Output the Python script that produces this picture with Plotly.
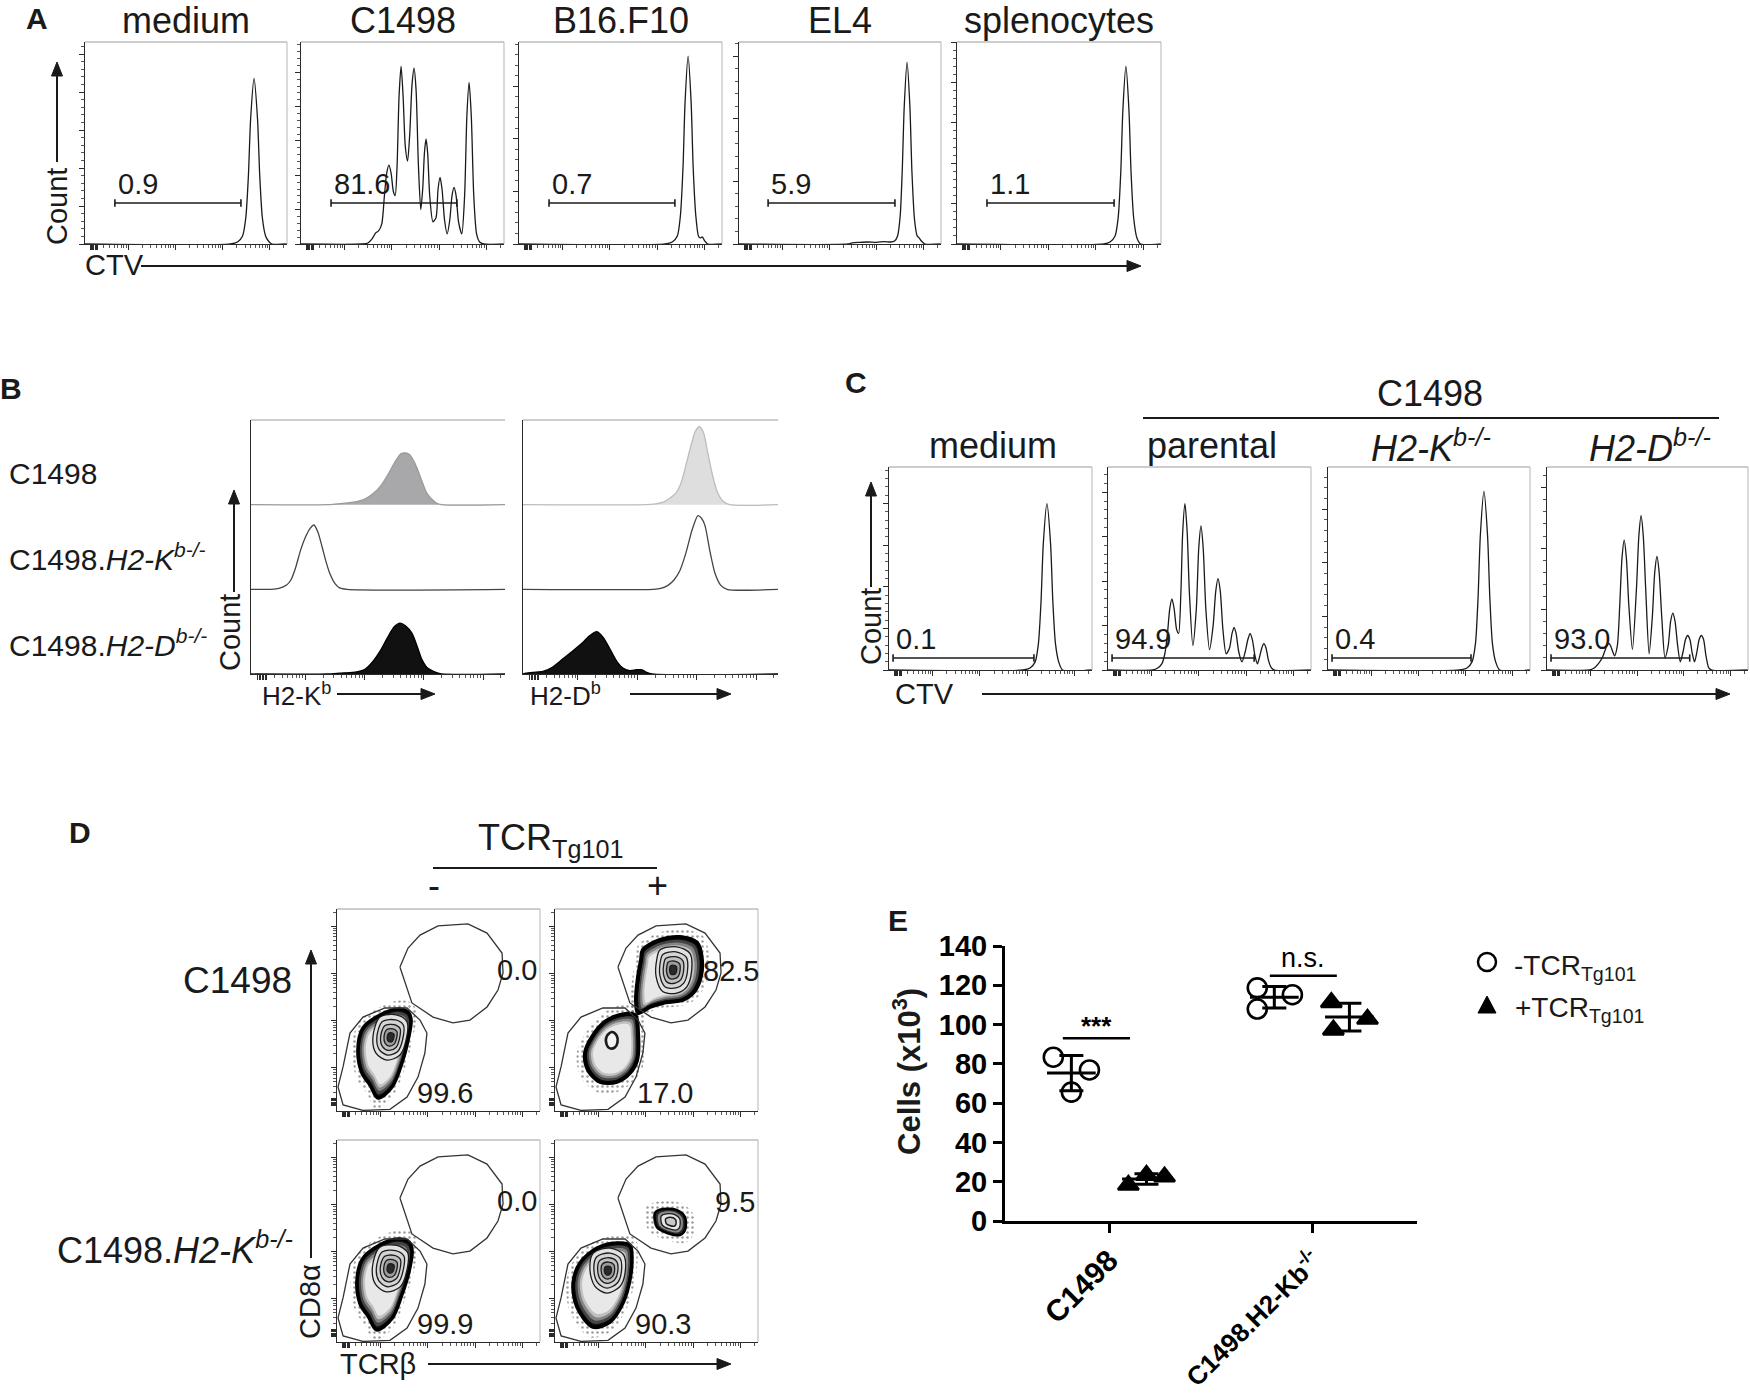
import numpy as np
import plotly.graph_objects as go

W, H = 1750, 1395
FONT = "Liberation Sans, Arial, Helvetica, sans-serif"
INK = "#1a1a1a"

# ====================== DATA ======================
# Panel A – CTV histograms (x, y in % of each plot frame)
A_titles = ["medium", "C1498", "B16.F10", "EL4", "splenocytes"]
A_gate_labels = ["0.9", "81.6", "0.7", "5.9", "1.1"]
A_gate_start = [14.8, 14.8, 14.8, 14.4, 14.7]
A_gate_end = [77.2, 76.8, 76.8, 77.2, 77.0]
A_gate_level = [20.3, 20.3, 20.3, 20.3, 20.3]
A_count_step = [18.8, 17.0, 26.0, 31.0, 20.0]

A_medium_x = [0, 72, 75.5, 78, 79.6, 80.9, 82, 83.7, 85.4, 86.5, 87.8, 89.4, 90.8, 92.5, 100]
A_medium_y = [0, 0, 1, 4, 13, 34, 62, 82, 62, 34, 13, 4, 1.5, 0, 0]
A_c1498_x = [0, 30, 33, 35, 36.8, 38.2, 39.8, 41.1, 42.2, 43.3, 44.4, 45.5, 46.4, 47.3, 48.3, 49.3, 50.3,
             51.4, 52.5, 53.6, 54.7, 55.7, 56.7, 57.8, 59.0, 60.0, 60.8, 61.6, 62.4, 63.4, 65.0, 66.5,
             67.5, 68.5, 69.5, 70.7, 72.0, 73.3, 74.4, 75.4, 76.4, 77.6, 79.2, 80.6, 81.7, 82.8, 83.9,
             85.1, 86.5, 88, 90, 100]
A_c1498_y = [0, 0, 0.5, 2.5, 5.5, 6.5, 10, 24, 35, 39, 35, 26, 24, 38, 73, 88, 73, 48, 41, 55, 79, 87,
             76, 40, 17, 28, 45, 52, 45, 24, 11, 13, 27, 33, 27, 12, 5, 12, 24, 28, 24, 11, 5, 24, 63,
             80, 63, 24, 5, 1, 0, 0]
A_b16_x = [0, 72, 75.5, 78, 79.5, 80.8, 81.8, 83.3, 84.8, 85.8, 87.1, 88.4, 89.3, 90.3, 91.5, 93, 100]
A_b16_y = [0, 0, 1, 4, 14, 38, 70, 93, 70, 38, 14, 4, 3, 3.5, 1.5, 0, 0]
A_el4_x = [0, 54, 56, 60, 64, 68, 72, 75, 77, 78.5, 79.8, 80.8, 81.8, 83.2, 84.6, 85.6, 86.9, 88.2,
           89.2, 90.3, 92, 100]
A_el4_y = [0, 0, 0.6, 0.8, 1, 0.8, 1.2, 1, 1.5, 4, 14, 36, 68, 90, 68, 36, 12, 4, 3, 1.5, 0, 0]
A_spl_x = [0, 72, 75, 77.5, 79, 80.3, 81.3, 82.8, 84.3, 85.3, 86.6, 88.2, 90, 100]
A_spl_y = [0, 0, 1, 4, 13, 36, 66, 88, 66, 36, 13, 3, 0, 0]
A_curves = [(A_medium_x, A_medium_y), (A_c1498_x, A_c1498_y), (A_b16_x, A_b16_y),
            (A_el4_x, A_el4_y), (A_spl_x, A_spl_y)]

# Panel B – MHC-I staining, offset histograms (x in %, y in row units)
B_row_labels = ["C1498", "C1498.<i>H2-K<sup>b-/-</sup></i>", "C1498.<i>H2-D<sup>b-/-</sup></i>"]
B_axis_labels = ["H2-K<sup>b</sup>", "H2-D<sup>b</sup>"]
B_Kb_top_x = [0, 30, 34, 38, 42, 45, 48, 51, 54, 57, 59, 60.6, 62.5, 64, 65.5, 67, 69, 71, 73, 75, 100]
B_Kb_top_y = [0, 0, 0.01, 0.02, 0.04, 0.07, 0.13, 0.22, 0.36, 0.52, 0.6, 0.61, 0.59, 0.52, 0.42, 0.3,
              0.15, 0.07, 0.02, 0, 0]
B_Kb_mid_x = [0, 8, 11, 14, 15.7, 17.5, 19.5, 21.5, 23.3, 24.8, 26.3, 28, 29.5, 31, 33, 34.7, 37.8, 100]
B_Kb_mid_y = [0, 0, 0.01, 0.05, 0.11, 0.25, 0.46, 0.62, 0.72, 0.76, 0.68, 0.5, 0.33, 0.19, 0.07, 0.02, 0, 0]
B_Kb_bot_x = [0, 30, 35, 40, 42.5, 45, 48, 51, 53.9, 56.5, 58.7, 60.8, 63.4, 65.5, 67.3, 69.5, 72.8, 75, 100]
B_Kb_bot_y = [0, 0, 0.01, 0.02, 0.03, 0.06, 0.15, 0.28, 0.44, 0.56, 0.6, 0.57, 0.48, 0.32, 0.17, 0.07,
              0.02, 0, 0]
B_Db_top_x = [0, 48, 52, 55, 57.3, 60, 62, 64, 65.8, 67.5, 69.2, 70.8, 72.4, 74.3, 76.2, 78.5, 81, 100]
B_Db_top_y = [0, 0, 0.01, 0.03, 0.07, 0.14, 0.26, 0.48, 0.69, 0.86, 0.92, 0.85, 0.62, 0.35, 0.15, 0.04, 0, 0]
B_Db_mid_x = [0, 51, 54, 57, 59.2, 61.5, 63.9, 66.3, 68.6, 70, 71.4, 73.3, 75.3, 77.5, 80, 100]
B_Db_mid_y = [0, 0, 0.01, 0.05, 0.11, 0.22, 0.43, 0.7, 0.87, 0.84, 0.75, 0.45, 0.19, 0.05, 0, 0]
B_Db_bot_x = [0, 1.2, 4, 7.8, 11.5, 15.3, 19, 23, 26, 29, 31.5, 34.4, 36.8, 39.2, 42, 44.5, 46.7, 48.5,
              50.6, 100]
B_Db_bot_y = [0, 0.01, 0.02, 0.03, 0.08, 0.17, 0.26, 0.36, 0.45, 0.5, 0.43, 0.28, 0.15, 0.07, 0.04, 0.05,
              0.05, 0.02, 0, 0]

# Panel C – CTV histograms
C_group_title = "C1498"
C_titles = ["medium", "parental", "<i>H2-K<sup>b-/-</sup></i>", "<i>H2-D<sup>b-/-</sup></i>"]
C_gate_labels = ["0.1", "94.9", "0.4", "93.0"]
C_gate_start = [2.0, 2.0, 2.0, 2.0]
C_gate_end = [71.4, 72.0, 70.8, 71.0]
C_gate_level = [5.9, 5.9, 5.9, 5.9]
C_count_step = [20.5, 21.9, 26.4, 30.0]
C_medium_x = [0, 66, 69.5, 72, 73.6, 74.9, 76, 77.8, 79.6, 80.7, 82, 83.6, 85.5, 100]
C_medium_y = [0, 0, 1, 4, 13, 34, 62, 82, 62, 34, 13, 4, 0, 0]
C_par_x = [0, 22, 24.5, 26.5, 28, 29.3, 30.4, 31.5, 32.6, 33.8, 34.8, 35.9, 36.8, 37.9, 39.0, 40.1, 41.8,
           43.5, 44.7, 45.8, 46.9, 48.2, 50.0, 51.8, 53.1, 54.2, 55.3, 56.6, 58.2, 59.9, 61.1, 62.1, 63.1,
           64.4, 66.0, 67.6, 68.9, 70.0, 71.1, 72.4, 73.6, 74.8, 75.8, 76.8, 77.8, 79.0, 80.5, 82, 100]
C_par_y = [0, 0, 1, 3, 8, 18, 30, 35, 30, 20, 18, 38, 68, 82, 68, 38, 12, 30, 60, 71, 60, 30, 10, 22, 39,
           45, 39, 20, 8, 11, 18, 21, 18, 9, 4, 9, 15, 18, 15, 7, 3, 7, 11, 13, 11, 5, 1, 0, 0]
C_kb_x = [0, 65, 68.8, 71.3, 73, 74.3, 75.4, 77.2, 79, 80.1, 81.4, 83, 85, 100]
C_kb_y = [0, 0, 1, 4, 13, 36, 66, 88, 66, 36, 13, 4, 0, 0]
C_db_x = [0, 21, 23.5, 25.5, 27.5, 29, 30, 31, 32, 33.6, 35, 36.2, 37.3, 38.4, 39.5, 40.7, 42.5, 44.5,
          45.7, 46.8, 47.9, 49.1, 50.8, 52.4, 53.6, 54.7, 55.8, 57.1, 58.7, 60.3, 61.5, 62.6, 63.7, 65,
          66.3, 67.7, 68.9, 70, 71.1, 72.3, 73.4, 74.6, 75.7, 76.8, 77.9, 79.1, 80.5, 82, 100]
C_db_y = [0, 0, 1, 3, 6, 10, 12.5, 13, 11, 7, 12, 32, 55, 64, 55, 32, 10, 40, 66, 76, 66, 40, 8, 26, 48,
          56, 48, 26, 6, 12, 24, 28, 24, 12, 4, 9, 15, 17, 15, 8, 4, 9, 15, 17, 15, 7, 1, 0, 0]
C_curves = [(C_medium_x, C_medium_y), (C_par_x, C_par_y), (C_kb_x, C_kb_y), (C_db_x, C_db_y)]

# Panel D – CD8a vs TCRb contour plots (coordinates in % of each frame)
D_row_labels = ["C1498", "C1498.<i>H2-K<sup>b-/-</sup></i>"]
D_hi_labels = ["0.0", "82.5", "0.0", "9.5"]
D_lo_labels = ["99.6", "17.0", "99.9", "90.3"]
D_gate_lo_x = [3, 6.4, 12.8, 23.6, 34.5, 40.9, 44.3, 43.3, 39.9, 34.5, 26.1, 12.8, 3, 0.5]
D_gate_lo_y = [22, 38.6, 46.5, 51, 51, 45, 38.6, 28.7, 16.8, 6.9, 0.8, 0.3, 3, 11.9]
D_gate_hi_x = [31, 35, 40.9, 49.8, 64.5, 73.9, 81.3, 81.8, 79.3, 73.9, 65.5, 57.1, 47.3, 36.9]
D_gate_hi_y = [71.3, 80.7, 87.1, 91.6, 92.6, 88.1, 78.2, 68.3, 59.9, 51.5, 45, 43.6, 46.5, 53.5]
D_TL_outer_x = [20.2, 16.3, 12.3, 10.3, 12.8, 21.2, 30.0, 35.0, 36.5, 35.0, 32.0, 27.1]
D_TL_outer_y = [6.4, 12.9, 18.8, 30.2, 41.1, 47.5, 50.5, 49.0, 45.0, 35.1, 23.8, 11.9]
D_TL_inner_x = [21.2, 29.6, 34.5, 34.0, 31.0, 24.6, 19.2, 17.7]
D_TL_inner_y = [46.5, 47.5, 44.1, 35.1, 27.7, 25.2, 28.7, 36.6]
D_BL_outer_x = [19.5, 15.5, 11.5, 9.8, 12.5, 21.0, 30.0, 35.5, 37.0, 35.5, 32.0, 27.0]
D_BL_outer_y = [6.0, 12.5, 18.5, 30.0, 41.0, 48.0, 51.0, 49.5, 45.0, 35.0, 23.5, 11.5]
D_BL_inner_x = [21.0, 29.5, 34.8, 34.3, 31.2, 24.4, 19.0, 17.4]
D_BL_inner_y = [46.8, 47.8, 44.3, 35.0, 27.4, 24.8, 28.5, 36.6]
D_TRu_outer_x = [43.3, 51.7, 61.6, 70.0, 72.4, 71.4, 68.0, 63.0, 53.2, 46.8, 40.9, 39.9, 40.9, 42.4]
D_TRu_outer_y = [79.7, 84.7, 86.1, 83.2, 74.8, 64.9, 58.4, 55.0, 53.5, 51.5, 48.5, 55.0, 66.3, 74.8]
D_TRu_inner_x = [51.7, 60.0, 66.5, 67.3, 64.9, 60.0, 53.2, 49.8, 50.1]
D_TRu_inner_y = [79.7, 81.3, 77.9, 69.5, 61.5, 58.4, 59.0, 66.5, 74.8]
D_TRl_outer_x = [39.4, 40.9, 40.4, 36.9, 30.5, 22.2, 16.3, 14.8, 18.2, 24.6, 32.0]
D_TRl_outer_y = [47.5, 38.6, 25.2, 18.8, 14.4, 14.4, 20.3, 28.7, 36.6, 44.1, 47.5]
D_TRl_inner_x = [28.0, 30.3, 30.8, 29.5, 27.0, 25.4, 25.5]
D_TRl_inner_y = [39.1, 37.5, 34.0, 31.5, 31.0, 33.0, 37.0]
D_BRl_outer_x = [18.7, 10.8, 8.9, 12.3, 20.7, 30.5, 36.9, 37.9, 36.9, 33.5, 27.1]
D_BRl_outer_y = [7.4, 17.3, 29.2, 39.1, 46.5, 49.0, 48.0, 42.1, 30.7, 19.3, 9.9]
D_BRl_inner_x = [18.9, 27.1, 33.7, 34.5, 32.0, 25.5, 19.7, 17.2]
D_BRl_inner_y = [44.0, 46.5, 43.2, 34.1, 27.5, 24.2, 27.5, 35.8]
D_BRu_outer_x = [49.3, 53.2, 60.1, 64.0, 64.0, 61.6, 55.2, 50.2]
D_BRu_outer_y = [63.9, 65.8, 65.3, 61.9, 55.4, 53.0, 54.0, 56.9]

# Panel E – cell counts (x10^3)
E_categories = ["C1498", "C1498.H2-Kb<sup>-/-</sup>"]
E_neg_vals = [[83.4, 76.9, 65.6], [118.7, 115.2, 107.9]]
E_pos_vals = [[18.3, 23.3, 22.5], [111.3, 102.8, 97.3]]
E_neg_jitter = [[-0.089, 0.089, 0.0], [-0.084, 0.089, -0.084]]
E_pos_jitter = [[-0.089, 0.0, 0.089], [-0.089, 0.089, -0.079]]
E_group_offset = [-0.19, 0.18]
E_sig_labels = ["<b>***</b>", "n.s."]
E_sig_level = [93.0, 124.8]
E_sig_span = [(-0.232, 0.099), (0.788, 1.118)]
E_legend = ["-TCR<sub>Tg101</sub>", "+TCR<sub>Tg101</sub>"]

# ====================== LAYOUT HELPERS ======================
FLOW_MAJOR = [21.5, 44.8, 68.1, 91.4]
FLOW_ZERO = [2.6, 3.2, 3.8, 4.4, 5.0, 5.6, 6.2]
FLOW_MINOR = sorted(v for d in [-1.8, 21.5, 44.8, 68.1, 91.4] for v in
                    [d + 23.3 * np.log10(k) for k in range(2, 10)] if 8 < v < 100)

fig = go.Figure()
ann, shp, axes = [], [], {}


def ids(i):
    s = "" if i == 1 else str(i)
    return "xaxis" + s, "yaxis" + s, "x" + s, "y" + s


def frame(i, box, yrange, ymaj=None, ymin=None, right=True):
    l, t, r, b = box
    xk, yk, xid, yid = ids(i)
    common = dict(showgrid=False, zeroline=False, showline=True, linecolor="#2a2a2a", linewidth=1.2,
                  showticklabels=False, fixedrange=True, tickmode="array", ticks="outside",
                  ticklen=5, tickwidth=1, tickcolor="#2a2a2a", automargin=False)
    axes[xk] = dict(common, domain=[l / W, r / W], range=[0, 100], anchor=yid,
                    tickvals=FLOW_ZERO + FLOW_MAJOR,
                    minor=dict(tickmode="array", tickvals=FLOW_MINOR, ticks="outside", ticklen=3,
                               tickwidth=1, tickcolor="#555"))
    ya = dict(common, domain=[1 - b / H, 1 - t / H], range=yrange, anchor=xid)
    if ymaj is None:
        ya.update(ticks="", tickvals=[])
    else:
        ya.update(tickvals=ymaj, minor=dict(tickmode="array", tickvals=ymin, ticks="outside",
                                            ticklen=3, tickwidth=1, tickcolor="#555"))
    axes[yk] = ya
    shp.append(dict(type="line", xref=xid + " domain", yref=yid + " domain", x0=0, x1=1, y0=1, y1=1,
                    line=dict(color="#9c9c9c", width=1.2)))
    if right:
        shp.append(dict(type="line", xref=xid + " domain", yref=yid + " domain", x0=1, x1=1, y0=0, y1=1,
                        line=dict(color="#b5b5b5", width=1)))
    return xid, yid


def count_ticks(step):
    maj = list(np.arange(0, 100.001, step))
    mn = [m + step * k / 5 for m in maj for k in range(1, 5) if m + step * k / 5 < 100]
    return maj, mn


def text(x, y, s, size, xanchor="center", yanchor="middle", angle=0, color=INK):
    ann.append(dict(x=x / W, y=1 - y / H, xref="paper", yref="paper", text=s, showarrow=False,
                    xanchor=xanchor, yanchor=yanchor, textangle=angle,
                    font=dict(family=FONT, size=size, color=color)))


def pline(x0, y0, x1, y1, w=2, c=INK):
    shp.append(dict(type="line", xref="paper", yref="paper", x0=x0 / W, y0=1 - y0 / H, x1=x1 / W,
                    y1=1 - y1 / H, line=dict(color=c, width=w)))


def arrow(x0, y0, x1, y1, head=14, half=5.5):
    # straight arrow drawn with shapes: shaft + filled head anchored at the tip
    if x0 == x1:  # vertical, pointing up
        pline(x0, y0, x1, y1 + head - 2)
        path = "M 0,0 L %g,%g L %g,%g Z" % (-half, -head, half, -head)
    else:  # horizontal, pointing right
        pline(x0, y0, x1 - head + 2, y1)
        path = "M 0,0 L %g,%g L %g,%g Z" % (-head, half, -head, -half)
    shp.append(dict(type="path", xref="paper", yref="paper", xsizemode="pixel", ysizemode="pixel",
                    xanchor=x1 / W, yanchor=1 - y1 / H, path=path, fillcolor=INK,
                    line=dict(color=INK, width=1)))


def curve(xid, yid, xs, ys, color=INK, width=1.3, fill=None, base=0.0):
    kw = dict(x=xs, y=[base + v for v in ys], xaxis=xid, yaxis=yid, mode="lines",
              line=dict(color=color, width=width, shape="spline", smoothing=0.7),
              hoverinfo="skip", showlegend=False)
    if fill:
        kw.update(fill="toself", fillcolor=fill)
    fig.add_trace(go.Scatter(**kw))


def gate(xid, yid, g0, g1, gy, label, size=29):
    for (a, b, c, d) in [(g0, gy, g1, gy), (g0, gy - 1.8, g0, gy + 1.8), (g1, gy - 1.8, g1, gy + 1.8)]:
        shp.append(dict(type="line", xref=xid, yref=yid, x0=a, y0=b, x1=c, y1=d,
                        line=dict(color=INK, width=1.6)))
    ann.append(dict(x=g0 + 0.6, y=gy + 0.3, xref=xid, yref=yid, text=label, showarrow=False,
                    xanchor="left", yanchor="bottom", font=dict(family=FONT, size=size, color=INK)))


# ====================== PANEL A ======================
A_boxes = [(85, 42, 287, 244), (301, 42, 504, 244), (519, 42, 722, 244), (739, 42, 941, 244),
           (957, 42, 1161, 244)]
for k in range(5):
    maj, mn = count_ticks(A_count_step[k])
    xid, yid = frame(k + 1, A_boxes[k], [0, 100], maj, mn)
    curve(xid, yid, *A_curves[k])
    gate(xid, yid, A_gate_start[k], A_gate_end[k], A_gate_level[k], A_gate_labels[k])
    l, t, r, b = A_boxes[k]
    text((l + r) / 2, 21, A_titles[k], 36)
text(37, 19, "<b>A</b>", 30)
text(57, 207, "Count", 29, angle=-90)
arrow(57, 162, 57, 62)
text(83, 265, "CTV", 29, xanchor="left")
arrow(141, 266, 1141, 266)

# ====================== PANEL B ======================
B_boxes = [(251, 420, 505, 674), (523, 420, 778, 674)]
B_sets = [
    [(B_Kb_top_x, B_Kb_top_y, "#a8a8aa", "#9a9a9a", 2), (B_Kb_mid_x, B_Kb_mid_y, "#ffffff", "#444", 1),
     (B_Kb_bot_x, B_Kb_bot_y, "#111111", "#000", 0)],
    [(B_Db_top_x, B_Db_top_y, "#dedede", "#bdbdbd", 2), (B_Db_mid_x, B_Db_mid_y, "#ffffff", "#444", 1),
     (B_Db_bot_x, B_Db_bot_y, "#111111", "#000", 0)],
]
for k in range(2):
    xid, yid = frame(6 + k, B_boxes[k], [0, 3], right=False)
    for xs, ys, fc, lc, base in B_sets[k]:
        curve(xid, yid, xs, ys, color=lc, width=1.3, fill=fc, base=base)
text(11, 388, "<b>B</b>", 30)
for k, yy in enumerate([473, 557, 643]):
    text(7, yy, B_row_labels[k], 30, xanchor="left")
text(230, 633, "Count", 29, angle=-90)
arrow(234, 592, 234, 490)
text(260, 694, B_axis_labels[0], 26, xanchor="left")
arrow(337, 694, 435, 694)
text(528, 694, B_axis_labels[1], 26, xanchor="left")
arrow(630, 694, 731, 694)

# ====================== PANEL C ======================
C_boxes = [(889, 467, 1092, 670), (1108, 467, 1311, 670), (1328, 467, 1530, 670), (1547, 467, 1748, 670)]
for k in range(4):
    maj, mn = count_ticks(C_count_step[k])
    xid, yid = frame(8 + k, C_boxes[k], [0, 100], maj, mn)
    curve(xid, yid, *C_curves[k])
    gate(xid, yid, C_gate_start[k], C_gate_end[k], C_gate_level[k], C_gate_labels[k])
    l, t, r, b = C_boxes[k]
    text((l + r) / 2 + 2, 446, C_titles[k], 36)
text(856, 383, "<b>C</b>", 30)
text(1430, 394, C_group_title, 36)
pline(1143, 418, 1719, 418, 2)
text(871, 627, "Count", 29, angle=-90)
arrow(871, 587, 871, 482)
text(893, 694, "CTV", 29, xanchor="left")
arrow(982, 694, 1730, 694)

# ====================== PANEL D ======================
D_boxes = [(337, 909, 540, 1111), (555, 909, 758, 1111), (337, 1140, 540, 1342), (555, 1140, 758, 1342)]
D_hi_pos = [(88.7, 69.8), (86.6, 69.3), (88.7, 69.8), (88.7, 69.3)]
D_lo_pos = [(53.0, 8.9), (54.0, 8.9), (53.0, 8.9), (53.4, 8.9)]


def scaled(xs, ys, s, cx=None, cy=None):
    cx = float(np.mean(xs)) if cx is None else cx
    cy = float(np.mean(ys)) if cy is None else cy
    X = [cx + s * (x - cx) for x in xs]
    Y = [cy + s * (y - cy) for y in ys]
    return X + X[:1], Y + Y[:1]


def blob(xid, yid, X, Y, fill, lc="rgba(0,0,0,0)", lw=0.0, pattern=None, smooth=0.9):
    kw = dict(x=X, y=Y, xaxis=xid, yaxis=yid, mode="lines", fill="toself", fillcolor=fill,
              line=dict(color=lc, width=lw, shape="spline", smoothing=smooth),
              hoverinfo="skip", showlegend=False)
    if pattern:
        kw["fillpattern"] = pattern
    fig.add_trace(go.Scatter(**kw))


def outline(xid, yid, X, Y, lc, lw, smooth=0.9):
    fig.add_trace(go.Scatter(x=X, y=Y, xaxis=xid, yaxis=yid, mode="lines",
                             line=dict(color=lc, width=lw, shape="spline", smoothing=smooth),
                             hoverinfo="skip", showlegend=False))


HALO = dict(shape=".", fgcolor="#3a3a3a", bgcolor="rgba(0,0,0,0)", size=5, solidity=0.2)
GRAD_S = [1.0, 0.93, 0.86, 0.79, 0.72]
GRAD_C = ["#101010", "#444444", "#848484", "#c0c0c0", "#e8e8e8"]


def halo(xid, yid, ox, oy, s=1.22):
    X, Y = scaled(ox, oy, s)
    blob(xid, yid, X, Y, "rgba(0,0,0,0)", pattern=HALO)


def population(xid, yid, ox, oy, ix=None, iy=None, ring_s=(1.0, 0.78, 0.57, 0.38, 0.2),
               ring_c=("#e2e2e2", "#d4d4d4", "#c0c0c0", "#9c9c9c", "#2a2a2a"), ring_lw=1.3, outer_lw=3.5):
    for s, c in zip(GRAD_S, GRAD_C):
        X, Y = scaled(ox, oy, s)
        blob(xid, yid, X, Y, c)
    if ix is not None:
        for s, c in zip(ring_s, ring_c):
            X, Y = scaled(ix, iy, s)
            blob(xid, yid, X, Y, c, lc="#1c1c1c", lw=ring_lw)
    X, Y = scaled(ox, oy, 1.0)
    outline(xid, yid, X, Y, "#000000", outer_lw)


d_axes = []
for k in range(4):
    xid, yid = frame(12 + k, D_boxes[k], [0, 100], FLOW_ZERO + FLOW_MAJOR, FLOW_MINOR)
    d_axes.append((xid, yid))

halo(*d_axes[0], D_TL_outer_x, D_TL_outer_y)
halo(*d_axes[1], D_TRu_outer_x, D_TRu_outer_y, 1.2)
halo(*d_axes[1], D_TRl_outer_x, D_TRl_outer_y, 1.3)
halo(*d_axes[2], D_BL_outer_x, D_BL_outer_y)
halo(*d_axes[3], D_BRl_outer_x, D_BRl_outer_y)
halo(*d_axes[3], D_BRu_outer_x, D_BRu_outer_y, 1.6)

population(*d_axes[0], D_TL_outer_x, D_TL_outer_y, D_TL_inner_x, D_TL_inner_y)
population(*d_axes[2], D_BL_outer_x, D_BL_outer_y, D_BL_inner_x, D_BL_inner_y)
population(*d_axes[3], D_BRl_outer_x, D_BRl_outer_y, D_BRl_inner_x, D_BRl_inner_y)
population(*d_axes[1], D_TRu_outer_x, D_TRu_outer_y, D_TRu_inner_x, D_TRu_inner_y, outer_lw=4)
population(*d_axes[1], D_TRl_outer_x, D_TRl_outer_y, D_TRl_inner_x, D_TRl_inner_y,
           ring_s=(1.0,), ring_c=("#f4f4f4",), ring_lw=2.6, outer_lw=4)
xid, yid = d_axes[3]
for s, c, lc, lw in [(1.0, "#2a2a2a", "#000", 2.6), (0.8, "#8a8a8a", "rgba(0,0,0,0)", 0),
                     (0.62, "#e6e6e6", "#1c1c1c", 1.3), (0.34, "#c8c8c8", "#1c1c1c", 1.5)]:
    X, Y = scaled(D_BRu_outer_x, D_BRu_outer_y, s)
    blob(xid, yid, X, Y, c, lc=lc, lw=lw)

for k in range(4):
    xid, yid = d_axes[k]
    for gx, gy in [(D_gate_lo_x, D_gate_lo_y), (D_gate_hi_x, D_gate_hi_y)]:
        fig.add_trace(go.Scatter(x=gx + gx[:1], y=gy + gy[:1], xaxis=xid, yaxis=yid, mode="lines",
                                 line=dict(color="#333", width=1.3), hoverinfo="skip", showlegend=False))
    for lab, (lx, ly) in [(D_hi_labels[k], D_hi_pos[k]), (D_lo_labels[k], D_lo_pos[k])]:
        ann.append(dict(x=lx, y=ly, xref=xid, yref=yid, text=lab, showarrow=False,
                        font=dict(family=FONT, size=29, color=INK)))

text(80, 832, "<b>D</b>", 30)
text(476, 840, "TCR<sub>Tg101</sub>", 36, xanchor="left")
pline(433, 868, 657, 868, 2)
text(434, 885, "-", 36)
text(657, 885, "+", 36)
text(294, 980, D_row_labels[0], 37, xanchor="right")
text(295, 1248, D_row_labels[1], 36, xanchor="right")
text(310, 1302, "CD8α", 29, angle=-90)
arrow(311, 1258, 311, 950)
text(338, 1364, "TCRβ", 29, xanchor="left")
arrow(428, 1364, 731, 1364)

# ====================== PANEL E ======================
E_ticktext = ['<b><span style="font-size:30px">%s</span></b>' % E_categories[0],
              '<b><span style="font-size:26px">%s</span></b>' % E_categories[1]]
axes["xaxis16"] = dict(domain=[1005 / W, 1417 / W], range=[-0.517, 1.513], anchor="y16", showgrid=False,
                       zeroline=False, showline=True, linecolor="#000", linewidth=3, ticks="outside",
                       ticklen=9, tickwidth=3, tickcolor="#000", tickmode="array", tickvals=[0, 1],
                       ticktext=E_ticktext, tickangle=-45,
                       tickfont=dict(family=FONT, size=28, color="#000"), fixedrange=True, automargin=False)
E_yticks = list(range(0, 141, 20))
axes["yaxis16"] = dict(domain=[1 - 1221 / H, 1 - 946 / H], range=[0, 140], anchor="x16", showgrid=False,
                       zeroline=False, showline=True, linecolor="#000", linewidth=3, ticks="outside",
                       ticklen=9, tickwidth=3, tickcolor="#000", tickmode="array", tickvals=E_yticks,
                       ticktext=["<b>%d</b>" % v for v in E_yticks],
                       tickfont=dict(family=FONT, size=29, color="#000"), fixedrange=True, automargin=False)

for c in range(2):
    for vals, jit, off, sym, mk in [(E_neg_vals[c], E_neg_jitter[c], E_group_offset[0], "circle-open", 19),
                                     (E_pos_vals[c], E_pos_jitter[c], E_group_offset[1], "triangle-up", 18)]:
        cx = c + off
        m = float(np.mean(vals))
        sd = float(np.std(vals, ddof=1))
        fig.add_trace(go.Scatter(x=[cx - 0.12, cx + 0.12], y=[m, m], xaxis="x16", yaxis="y16", mode="lines",
                                 line=dict(color="#000", width=3), hoverinfo="skip", showlegend=False))
        fig.add_trace(go.Scatter(x=[cx], y=[m], xaxis="x16", yaxis="y16", mode="markers",
                                 marker=dict(size=1, color="rgba(0,0,0,0)"),
                                 error_y=dict(type="data", array=[sd], thickness=3, width=12, color="#000"),
                                 hoverinfo="skip", showlegend=False))
        fig.add_trace(go.Scatter(x=[cx + j for j in jit], y=vals, xaxis="x16", yaxis="y16", mode="markers",
                                 marker=dict(symbol=sym, size=mk, color="#000", line=dict(color="#000", width=2.6)),
                                 hoverinfo="skip", showlegend=False))

for lab, lvl, (s0, s1) in zip(E_sig_labels, E_sig_level, E_sig_span):
    shp.append(dict(type="line", xref="x16", yref="y16", x0=s0, x1=s1, y0=lvl, y1=lvl,
                    line=dict(color="#000", width=2.5)))
    ann.append(dict(x=(s0 + s1) / 2, y=lvl + (0.5 if lab == "n.s." else -2.5), xref="x16", yref="y16",
                    text=lab, showarrow=False, yanchor="bottom",
                    font=dict(family=FONT, size=27 if lab == "n.s." else 26, color="#000")))

text(898, 920, "<b>E</b>", 30)
text(907, 1071, "<b>Cells (x10<sup>3</sup>)</b>", 31, angle=-90)
shp.append(dict(type="circle", xref="paper", yref="paper", xsizemode="pixel", ysizemode="pixel",
                xanchor=1487 / W, yanchor=1 - 962 / H, x0=-9, x1=9, y0=-9, y1=9,
                line=dict(color="#000", width=2.5)))
shp.append(dict(type="path", xref="paper", yref="paper", xsizemode="pixel", ysizemode="pixel",
                xanchor=1487 / W, yanchor=1 - 1005 / H, path="M -9,-8 L 9,-8 L 0,9 Z",
                fillcolor="#000", line=dict(color="#000", width=1)))
text(1512, 967, E_legend[0], 28, xanchor="left")
text(1513, 1010, E_legend[1], 28, xanchor="left")

fig.update_layout(width=W, height=H, margin=dict(l=0, r=0, t=0, b=0, pad=0, autoexpand=False),
                  paper_bgcolor="white", plot_bgcolor="rgba(0,0,0,0)", showlegend=False,
                  annotations=ann, shapes=shp, font=dict(family=FONT, color=INK), **axes)
fig.write_html("out.html", config={"displayModeBar": False, "staticPlot": True},
               post_script="document.body.style.margin='0px';document.body.style.padding='0px';"
                           "document.body.style.overflow='hidden';")
